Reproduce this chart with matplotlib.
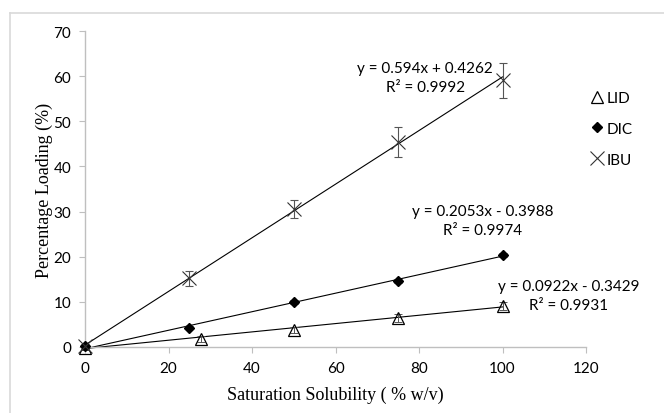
import matplotlib
matplotlib.use("Agg")
import matplotlib.pyplot as plt
from matplotlib.lines import Line2D
import numpy as np

# Data
lid_x = [0, 27.7, 50, 75, 100]
lid_y = [-0.3, 1.8, 3.8, 6.4, 9.0]
lid_err = [0.3, 0.6, 0.7, 0.8, 0.9]

dic_x = [0, 25, 50, 75, 100]
dic_y = [0.2, 4.3, 10.0, 14.6, 20.4]
dic_err = [0.2, 0.4, 0.4, 0.4, 0.5]

ibu_x = [0, 25, 50, 75, 100]
ibu_y = [0.3, 15.2, 30.6, 45.4, 59.1]
ibu_err = [0.3, 1.6, 2.0, 3.3, 3.9]

fits = {
    "LID": (0.0922, -0.3429, "y = 0.0922x - 0.3429", "R² = 0.9931"),
    "DIC": (0.2053, -0.3988, "y = 0.2053x - 0.3988", "R² = 0.9974"),
    "IBU": (0.594, 0.4262, "y = 0.594x + 0.4262", "R² = 0.9992"),
}

xticks = [0, 20, 40, 60, 80, 100, 120]
yticks = [0, 10, 20, 30, 40, 50, 60, 70]

tick_font = "Lato"
title_font = ["Liberation Serif"]

fig = plt.figure(figsize=(6.64, 4.14), dpi=100)
ax = fig.add_axes([85 / 664, 1 - 348 / 414, (586 - 85) / 664, (348 - 32) / 414])

# outer frame (top and left visible)
fig.add_artist(Line2D([10 / 664, 1], [1 - 14 / 414, 1 - 14 / 414], color="#d9d9d9", lw=1.2, transform=fig.transFigure))
fig.add_artist(Line2D([10 / 664, 10 / 664], [0, 1 - 14 / 414], color="#d9d9d9", lw=1.2, transform=fig.transFigure))

# trend lines
fx = np.array([0, 100])
for name, (m, b, _, _) in fits.items():
    ax.plot(fx, m * fx + b, color="black", lw=0.8, zorder=2)

# error bars
ax.errorbar(lid_x, lid_y, yerr=lid_err, fmt="none", ecolor="#555555", elinewidth=0.7, capsize=3, capthick=0.7, zorder=3)
ax.errorbar(dic_x, dic_y, yerr=dic_err, fmt="none", ecolor="#555555", elinewidth=0.7, capsize=3, capthick=0.7, zorder=3)
ax.errorbar(ibu_x, ibu_y, yerr=ibu_err, fmt="none", ecolor="#555555", elinewidth=0.8, capsize=3, capthick=0.8, zorder=3)

# markers
ax.plot(lid_x, lid_y, linestyle="none", marker="^", markersize=9, markerfacecolor="none",
        markeredgecolor="black", markeredgewidth=0.9, zorder=4, label="LID")
ax.plot(dic_x, dic_y, linestyle="none", marker="D", markersize=5.5, markerfacecolor="black",
        markeredgecolor="black", zorder=4, label="DIC")
ax.plot(ibu_x, ibu_y, linestyle="none", marker="x", markersize=10, markeredgecolor="#333333",
        markeredgewidth=0.8, zorder=4, label="IBU")

ax.set_xlim(0, 120)
ax.set_ylim(0, 70)
ax.set_xticks(xticks)
ax.set_yticks(yticks)
ax.set_xticklabels([str(t) for t in xticks], fontfamily=tick_font, fontsize=11)
ax.set_yticklabels([str(t) for t in yticks], fontfamily=tick_font, fontsize=11)
for s in ["top", "right"]:
    ax.spines[s].set_visible(False)
for s in ["left", "bottom"]:
    ax.spines[s].set_color("#bfbfbf")
    ax.spines[s].set_linewidth(1.0)
ax.tick_params(axis="both", direction="out", length=4, color="#bfbfbf", pad=6)
for art in ax.lines:
    art.set_clip_on(False)
for c in ax.collections:
    c.set_clip_on(False)

ax.set_xlabel("Saturation Solubility ( % w/v)", fontfamily=title_font, fontsize=13, labelpad=8)
ax.set_ylabel("Percentage Loading (%)", fontfamily=title_font, fontsize=13, labelpad=0)

# annotations
def fig_text(px, py, s):
    fig.text(px / 664, 1 - py / 414, s, ha="center", va="center", fontfamily=tick_font, fontsize=11)

fig_text(425, 69, fits["IBU"][2])
fig_text(426, 88, fits["IBU"][3])
fig_text(483, 212, fits["DIC"][2])
fig_text(483, 231, fits["DIC"][3])
fig_text(569, 287, fits["LID"][2])
fig_text(569, 306, fits["LID"][3])

leg = ax.legend(loc="upper left", bbox_to_anchor=(591 / 664, 1 - 92 / 414), bbox_transform=fig.transFigure,
                frameon=False, prop={"family": tick_font, "size": 11}, handlelength=0.8,
                handletextpad=0.2, labelspacing=1.1, borderaxespad=0, borderpad=0)

fig.savefig("out.png", dpi=100)
